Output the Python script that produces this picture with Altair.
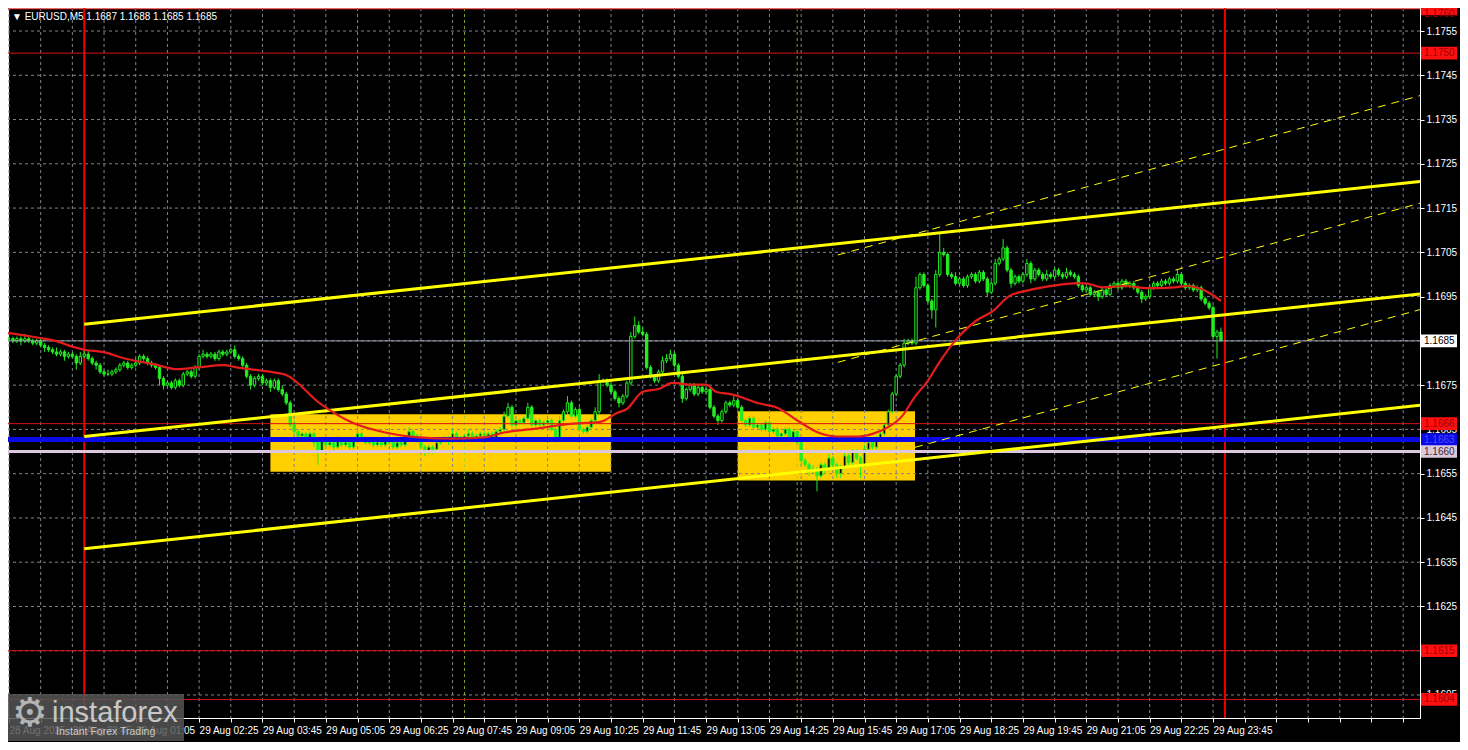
import json
import altair as alt
import pandas as pd

# ---------------- data (prices in pips above 1.1600) ----------------
BASE = 1.16
PIP = 0.0001
FIRST_BAR = -19          # bar index 0 = 29 Aug 00:00, 5-minute bars
FIRST_OPEN = 85.5

CLOSE = [
    85.5, 85.0, 85.5, 85.0, 85.5, 85.0, 84.5, 85.0, 84.0, 83.5,
    83.0, 82.5, 82.0, 82.5, 81.5, 82.0, 81.5, 80.0, 81.5, 82.0,
    81.0, 80.0, 79.5, 78.0, 77.5, 77.5, 78.0, 78.5, 79.5, 80.0,
    79.0, 79.5, 80.0, 81.5, 81.0, 80.0, 79.5, 79.0, 76.5, 75.0,
    75.5, 74.5, 76.0, 75.0, 77.5, 78.0, 77.0, 79.0, 81.5, 82.0,
    81.5, 82.0, 81.0, 82.5, 82.0, 82.5, 83.0, 81.5, 81.0, 79.5,
    77.0, 75.0, 76.5, 77.0, 75.5, 76.0, 74.5, 76.0, 74.0, 73.0,
    71.0, 66.0, 64.5, 63.5, 64.0, 63.0, 64.0, 62.0, 60.0, 62.5,
    61.5, 62.0, 61.0, 62.5, 61.5, 62.0, 61.0, 62.5, 64.0, 63.0,
    62.0, 62.5, 61.5, 62.0, 61.5, 62.5, 62.0, 61.0, 62.0, 61.5,
    63.0, 64.5, 63.5, 62.5, 61.0, 60.0, 61.0, 60.5, 62.0, 62.5,
    63.0, 62.5, 64.0, 63.0, 62.5, 63.5, 64.0, 63.0, 63.5, 64.0,
    63.5, 64.0, 63.0, 64.5, 65.0, 68.0, 70.0, 66.0, 67.0, 66.5,
    67.5, 70.0, 66.0, 67.0, 66.0, 66.5, 67.0, 65.0, 63.0, 67.0,
    69.0, 71.0, 68.0, 69.5, 65.0, 64.5, 65.5, 67.0, 69.0, 76.0,
    76.0, 75.0, 73.5, 72.0, 71.0, 72.5, 75.5, 86.0, 88.5, 87.0,
    86.5, 79.0, 77.0, 76.0, 78.0, 80.5, 81.0, 82.0, 79.5, 77.0,
    72.0, 74.0, 75.0, 73.0, 74.5, 73.5, 74.0, 70.0, 68.0, 67.0,
    69.0, 71.0, 70.5, 71.5, 70.0, 67.0, 66.0, 67.5, 65.5, 66.0,
    65.0, 66.5, 64.5, 65.0, 63.5, 64.0, 65.0, 63.0, 64.5, 62.0,
    58.0, 57.0, 55.5, 56.0, 54.5, 57.0, 56.0, 58.5, 57.0, 55.0,
    56.5, 59.0, 57.5, 60.0, 58.5, 57.0, 60.5, 62.0, 61.0, 63.0,
    64.0, 66.0, 69.0, 73.0, 77.0, 79.5, 84.5, 85.0, 84.5, 97.0,
    100.0, 97.5, 94.0, 92.0, 100.0, 105.0, 104.5, 100.0, 99.5, 98.0,
    99.0, 97.5, 99.5, 100.0, 98.5, 100.5, 99.0, 96.0, 98.0, 102.5,
    103.5, 106.0, 101.0, 98.0, 99.5, 98.5, 100.0, 102.5, 99.0, 101.0,
    100.0, 99.0, 100.0, 99.5, 101.0, 100.0, 99.5, 100.5, 100.0, 99.5,
    97.5, 96.5, 97.0, 95.5, 96.0, 95.0, 96.5, 95.5, 97.5, 98.0,
    97.0, 98.5, 97.5, 98.0, 97.0, 96.0, 94.5, 95.0, 97.0, 98.0,
    97.5, 98.5, 98.0, 99.0, 98.5, 100.0, 98.0, 97.0, 97.5, 96.5,
    97.0, 94.5, 93.5, 92.5, 86.0, 87.0, 85.0,
]

UPPER_WICK = [
    0.5, 0.5, 0.5, 0.5, 1.0, 0.5, 0.5, 0.5, 0.5, 0.5,
    0.5, 0.5, 1.0, 0.5, 0.5, 0.5, 0.5, 0.5, 1.0, 1.0,
    1.0, 0.5, 0.5, 0.5, 0.5, 1.0, 0.5, 0.5, 0.5, 0.5,
    0.5, 0.5, 1.0, 0.5, 0.5, 0.5, 0.5, 0.5, 0.5, 0.5,
    0.5, 0.5, 0.5, 0.5, 0.5, 0.5, 0.5, 0.5, 0.5, 1.0,
    0.5, 0.5, 0.5, 0.5, 0.5, 0.5, 0.5, 1.0, 0.5, 0.5,
    0.5, 0.5, 0.5, 0.5, 0.5, 0.5, 0.5, 0.5, 0.5, 1.0,
    0.5, 0.5, 1.0, 0.5, 0.5, 0.5, 0.5, 0.5, 0.5, 0.5,
    0.5, 0.5, 0.5, 1.0, 0.5, 0.5, 0.5, 0.5, 2.0, 0.5,
    0.5, 0.5, 0.5, 0.5, 0.5, 0.5, 0.5, 0.5, 0.5, 0.5,
    0.5, 1.0, 0.5, 0.5, 0.5, 0.5, 0.5, 0.5, 0.5, 0.5,
    0.5, 0.5, 1.0, 0.5, 0.5, 0.5, 1.0, 0.5, 0.5, 0.5,
    0.5, 0.5, 0.5, 0.5, 0.5, 1.0, 1.0, 0.5, 0.5, 0.5,
    0.5, 1.0, 0.5, 0.5, 0.5, 0.5, 0.5, 0.5, 0.5, 1.0,
    0.5, 1.5, 0.5, 0.5, 0.5, 0.5, 0.5, 0.5, 1.0, 1.5,
    0.5, 0.5, 0.5, 0.5, 0.5, 0.5, 0.5, 1.0, 2.0, 1.0,
    1.0, 0.5, 0.5, 0.5, 0.5, 1.0, 1.0, 1.0, 0.5, 0.5,
    0.5, 0.5, 0.5, 0.5, 0.5, 0.5, 0.5, 0.5, 0.5, 0.5,
    0.5, 0.5, 0.5, 1.0, 0.5, 0.5, 0.5, 0.5, 0.5, 0.5,
    0.5, 0.5, 0.5, 0.5, 0.5, 0.5, 0.5, 0.5, 0.5, 0.5,
    0.5, 0.5, 0.5, 1.0, 0.5, 0.5, 0.5, 1.0, 0.5, 0.5,
    0.5, 1.0, 0.5, 0.5, 0.5, 0.5, 1.0, 0.5, 0.5, 0.5,
    0.5, 0.5, 0.5, 0.5, 0.5, 0.5, 1.0, 0.5, 0.5, 2.5,
    0.5, 0.5, 0.5, 0.5, 1.0, 4.5, 1.0, 0.5, 0.5, 1.0,
    0.5, 0.5, 0.5, 0.5, 0.5, 0.5, 0.5, 0.5, 0.5, 1.0,
    0.5, 2.0, 0.5, 0.5, 0.5, 0.5, 0.5, 1.0, 0.5, 0.5,
    0.5, 0.5, 1.0, 0.5, 0.5, 0.5, 0.5, 1.0, 0.5, 0.5,
    0.5, 0.5, 0.5, 0.5, 0.5, 0.5, 0.5, 0.5, 0.5, 0.5,
    0.5, 0.5, 0.5, 0.5, 0.5, 0.5, 0.5, 0.5, 0.5, 0.5,
    0.5, 0.5, 0.5, 0.5, 0.5, 1.0, 0.5, 0.5, 0.5, 0.5,
    0.5, 0.5, 0.5, 0.5, 0.5, 0.5, 1.0,
]

LOWER_WICK = [
    0.5, 0.5, 0.5, 1.0, 0.5, 0.5, 0.5, 0.5, 0.5, 1.0,
    0.5, 0.5, 0.5, 0.5, 1.0, 0.5, 0.5, 1.5, 0.5, 0.5,
    0.5, 0.5, 1.0, 0.5, 0.5, 0.5, 0.5, 0.5, 0.5, 0.5,
    0.5, 0.5, 0.5, 0.5, 0.5, 0.5, 0.5, 0.5, 1.5, 1.0,
    0.5, 0.5, 0.5, 0.5, 0.5, 0.5, 0.5, 0.5, 0.5, 0.5,
    0.5, 0.5, 0.5, 0.5, 0.5, 0.5, 0.5, 0.5, 0.5, 0.5,
    0.5, 1.0, 0.5, 0.5, 0.5, 0.5, 1.0, 0.5, 0.5, 0.5,
    0.5, 0.5, 0.5, 0.5, 0.5, 0.5, 0.5, 1.0, 3.0, 0.5,
    0.5, 0.5, 1.0, 0.5, 0.5, 0.5, 0.5, 0.5, 0.5, 0.5,
    0.5, 0.5, 0.5, 0.5, 0.5, 0.5, 0.5, 0.5, 0.5, 0.5,
    0.5, 0.5, 0.5, 0.5, 0.5, 1.0, 0.5, 1.0, 0.5, 0.5,
    0.5, 1.0, 0.5, 0.5, 0.5, 0.5, 0.5, 0.5, 0.5, 0.5,
    0.5, 0.5, 0.5, 0.5, 0.5, 0.5, 0.5, 0.5, 0.5, 0.5,
    0.5, 0.5, 0.5, 0.5, 0.5, 0.5, 0.5, 0.5, 1.0, 0.5,
    0.5, 0.5, 0.5, 0.5, 0.5, 0.5, 0.5, 0.5, 0.5, 0.5,
    0.5, 0.5, 0.5, 0.5, 1.0, 0.5, 0.5, 0.5, 0.5, 0.5,
    0.5, 0.5, 0.5, 0.5, 0.5, 0.5, 0.5, 0.5, 0.5, 0.5,
    1.0, 0.5, 0.5, 0.5, 0.5, 0.5, 0.5, 0.5, 0.5, 1.0,
    0.5, 0.5, 0.5, 0.5, 0.5, 0.5, 0.5, 0.5, 0.5, 0.5,
    0.5, 0.5, 0.5, 0.5, 0.5, 0.5, 0.5, 0.5, 0.5, 0.5,
    1.0, 0.5, 1.0, 0.5, 3.5, 0.5, 1.0, 0.5, 0.5, 1.0,
    1.0, 0.5, 0.5, 0.5, 0.5, 3.0, 0.5, 0.5, 0.5, 0.5,
    0.5, 0.5, 0.5, 0.5, 0.5, 0.5, 0.5, 0.5, 0.5, 0.5,
    0.5, 0.5, 0.5, 2.0, 4.0, 0.5, 0.5, 0.5, 0.5, 0.5,
    0.5, 0.5, 0.5, 0.5, 0.5, 0.5, 0.5, 1.0, 0.5, 0.5,
    0.5, 0.5, 0.5, 1.0, 0.5, 0.5, 0.5, 0.5, 1.0, 0.5,
    0.5, 0.5, 0.5, 0.5, 0.5, 0.5, 0.5, 0.5, 0.5, 0.5,
    0.5, 0.5, 0.5, 0.5, 0.5, 1.0, 0.5, 0.5, 0.5, 0.5,
    0.5, 0.5, 0.5, 0.5, 0.5, 0.5, 1.0, 0.5, 0.5, 0.5,
    0.5, 0.5, 0.5, 0.5, 0.5, 0.5, 0.5, 0.5, 0.5, 0.5,
    0.5, 0.5, 0.5, 0.5, 0.5, 5.0, 0.0,
]

# moving average (red line), read at sample bars
MA_BAR = [-19.25, -11.5, -7.25, -3, 0, 5.25, 9.5, 17.75, 23.5, 28.5, 35.25, 38.5,
          47.75, 51, 59.5, 67.75, 76, 84.5, 92.75, 101, 106, 113.5, 122, 130.25,
          134.5, 137, 141, 145.25, 148.5, 153.5, 157, 159.5, 163.5, 170.25, 175.25,
          180.25, 185.25, 190.25, 195.25, 199, 202.75, 206.5, 209.75, 212.75, 216,
          219.5, 225.25, 229.5, 233.5, 237.75, 242, 250.25, 252.75, 257, 262.75,
          268.5, 275.25, 278.5, 282, 284.5, 287]
MA_PIPS = [86.8, 85.7, 85.0, 83.7, 83.0, 82.4, 81.2, 79.7, 78.6, 79.0, 79.5, 79.0,
           77.9, 77.3, 70.9, 66.5, 64.3, 63.2, 62.9, 63.2, 64.3, 65.1, 66.2, 66.7,
           68.7, 69.6, 73.5, 74.2, 75.5, 75.1, 75.1, 73.5, 72.9, 70.9, 69.8,
           66.9, 64.3, 63.4, 63.4, 64.0, 65.4, 68.0, 72.4, 75.7, 80.3,
           84.6, 89.6, 91.8, 95.1, 96.3, 97.1, 98.0, 98.0, 97.1, 97.4,
           96.9, 97.1, 97.4, 96.7, 95.6, 94.0]

# axis ticks
PRICE_TICKS = [1.1605, 1.1615, 1.1625, 1.1635, 1.1645, 1.1655, 1.1665, 1.1675,
               1.1685, 1.1695, 1.1705, 1.1715, 1.1725, 1.1735, 1.1745, 1.1755]
GRID_BARS = [-19, -11, -3, 5, 13, 21, 29, 37, 45, 53, 61, 69, 77, 85, 93, 101, 109,
             117, 125, 133, 141, 149, 157, 165, 173, 181, 189, 197, 205, 213, 221,
             229, 237, 245, 253, 261, 269, 277, 285, 293, 301, 309, 317, 325, 333]
TIME_LABELS = ["28 Aug 2025", "", "28 Aug 23:45", "", "29 Aug 01:05", "", "29 Aug 02:25", "",
               "29 Aug 03:45", "", "29 Aug 05:05", "", "29 Aug 06:25", "", "29 Aug 07:45", "",
               "29 Aug 09:05", "", "29 Aug 10:25", "", "29 Aug 11:45", "", "29 Aug 13:05", "",
               "29 Aug 14:25", "", "29 Aug 15:45", "", "29 Aug 17:05", "", "29 Aug 18:25", "",
               "29 Aug 19:45", "", "29 Aug 21:05", "", "29 Aug 22:25", "", "29 Aug 23:45", "",
               "", "", "", "", ""]

# horizontal levels
RED_LEVELS = [1.1760, 1.1750, 1.16663, 1.1615, 1.1604]
BLUE_LEVEL = [1.16627]
LILAC_LEVEL = [1.1660]
GRAY_LEVEL = [1.1685]

# vertical lines (bar index)
DAY_SEPARATORS = [0, 288]
SESSION_MARKS = [96, 180]

# highlighted boxes
BOX_START = [47, 165]
BOX_END = [133, 209.75]
BOX_TOP = [1.166845, 1.16691]
BOX_BOTTOM = [1.165544, 1.165345]

# channel lines: (name, start bar, start price, end bar, end price)
SOLID_LINES = [("up", 0, 1.168875, 337.25, 1.17210),
               ("mid", 0, 1.166338, 337.25, 1.169559),
               ("low", 0, 1.163801, 337.25, 1.167044)]
DASHED_LINES = [("up", 190.25, 1.17044, 337.25, 1.17404),
                ("mid", 190.25, 1.168015, 337.25, 1.17161),
                ("low", 209.75, 1.166095, 337.25, 1.169206)]

# right-hand price tags
TAG_PRICE = [1.1760, 1.1750, 1.1685, 1.16663, 1.16627, 1.1660, 1.1615, 1.1604]
TAG_TEXT = ["1.1760", "1.1750", "1.1685", "1.1666", "1.1663", "1.1660", "1.1615", "1.1604"]
TAG_BG = ["#ff1010", "#ff1010", "#ffffff", "#ff1010", "#0a0ae6", "#dcc8dc", "#ff1010", "#ff1010"]
TAG_FG = ["#a00000", "#a00000", "#000000", "#a00000", "#4a4aff", "#3a2a3a", "#a00000", "#a00000"]

TITLE = "\u25bc EURUSD,M5  1.1687 1.1688 1.1685 1.1685"

# ---------------- build ----------------
W, H = 1412, 710
PAD_R, PAD_B = 40, 24
Y_MIN, Y_MAX = 1.15998, 1.17602
LIME = "#22ee22"
FONT = "Liberation Sans"

opens = [FIRST_OPEN] + CLOSE[:-1]
rows = []
for k, c in enumerate(CLOSE):
    o = opens[k]
    top, bot = max(o, c), min(o, c)
    i = FIRST_BAR + k
    rows.append(dict(i=i, xl=i - 0.3, xr=i + 0.3,
                     o=BASE + o * PIP, c=BASE + c * PIP,
                     h=BASE + (top + UPPER_WICK[k]) * PIP,
                     l=BASE + (bot - LOWER_WICK[k]) * PIP,
                     bear=bool(c < o)))
candles = pd.DataFrame(rows)

XS = alt.Scale(domain=[-19.25, 337.25], nice=False, zero=False)
YS = alt.Scale(domain=[Y_MIN, Y_MAX], nice=False, zero=False)
label_expr = "[" + ",".join(json.dumps(s) for s in TIME_LABELS) + "][round((datum.value + 19) / 8)]"
X_AX = alt.Axis(values=GRID_BARS, labelExpr=label_expr, labelAlign="left", labelPadding=3,
                labelOverlap=False, labelBound=False, labelFlush=False, labelColor="white",
                labelFont=FONT, labelFontSize=10, tickColor="white", tickSize=4,
                domainColor="white", grid=False)
Y_AX = alt.Axis(orient="right", values=PRICE_TICKS, format=".4f", labelColor="white",
                labelFont=FONT, labelFontSize=10, tickColor="white", tickSize=4,
                domainColor="white", grid=False, labelOverlap=False, labelPadding=2)


def X(f):
    return alt.X(f, type="quantitative", scale=XS, axis=X_AX, title=None)


def Y(f):
    return alt.Y(f, type="quantitative", scale=YS, axis=Y_AX, title=None)


boxes = pd.DataFrame({"x0": BOX_START, "x1": BOX_END, "p0": BOX_TOP, "p1": BOX_BOTTOM})
box_layer = alt.Chart(boxes).mark_rect(color="#ffcf00").encode(
    x=X("x0"), x2="x1", y=Y("p0"), y2="p1")

GRID_COLOR = "#7d8590"
hgrid = alt.Chart(pd.DataFrame({"p": PRICE_TICKS})).mark_rule(
    color=GRID_COLOR, strokeDash=[3, 3], strokeWidth=1).encode(y=Y("p"))
vgrid = alt.Chart(pd.DataFrame({"i": GRID_BARS})).mark_rule(
    color=GRID_COLOR, strokeDash=[3, 3], strokeWidth=1).encode(x=X("i"))

session = alt.Chart(pd.DataFrame({"i": SESSION_MARKS})).mark_rule(
    color="#9acd32", strokeDash=[3, 3], strokeWidth=1, opacity=0.8).encode(x=X("i"))

wicks = alt.Chart(candles).mark_rule(color=LIME, strokeWidth=1).encode(
    x=X("i"), y=Y("l"), y2="h")
bodies = alt.Chart(candles).mark_rect(stroke=LIME, strokeWidth=1).encode(
    x=X("xl"), x2="xr", y=Y("o"), y2="c",
    fill=alt.condition(alt.datum.bear, alt.value(LIME), alt.value("black")))

red_lv = alt.Chart(pd.DataFrame({"p": RED_LEVELS})).mark_rule(
    color="#d81212", strokeWidth=1).encode(y=Y("p"))
gray_lv = alt.Chart(pd.DataFrame({"p": GRAY_LEVEL})).mark_rule(
    color="#9aa0ac", strokeWidth=1).encode(y=Y("p"))
blue_lv = alt.Chart(pd.DataFrame({"p": BLUE_LEVEL})).mark_rule(
    color="#0a0ae6", strokeWidth=5).encode(y=Y("p"))
lilac_lv = alt.Chart(pd.DataFrame({"p": LILAC_LEVEL})).mark_rule(
    color="#dcc8dc", strokeWidth=3).encode(y=Y("p"))

days = alt.Chart(pd.DataFrame({"i": DAY_SEPARATORS})).mark_rule(
    color="#ee0000", strokeWidth=2).encode(x=X("i"))


def line_df(lines):
    recs = []
    for name, i0, p0, i1, p1 in lines:
        recs.append(dict(name=name, i=i0, p=p0))
        recs.append(dict(name=name, i=i1, p=p1))
    return pd.DataFrame(recs)


solid = alt.Chart(line_df(SOLID_LINES)).mark_line(
    color="#ffff00", strokeWidth=3, clip=True).encode(x=X("i"), y=Y("p"), detail="name:N")
dashed = alt.Chart(line_df(DASHED_LINES)).mark_line(
    color="#ffff00", strokeWidth=1, strokeDash=[8, 6], clip=True).encode(
    x=X("i"), y=Y("p"), detail="name:N")

ma = alt.Chart(pd.DataFrame({"i": MA_BAR, "p": [BASE + v * PIP for v in MA_PIPS]})).mark_line(
    color="#e41c1c", strokeWidth=2.2, interpolate="monotone").encode(x=X("i"), y=Y("p"))

HALF = 0.000143
tags = pd.DataFrame({
    "p": TAG_PRICE,
    "tp": [min(p, Y_MAX - 0.00013) for p in TAG_PRICE],
    "top": [min(p + HALF, Y_MAX) for p in TAG_PRICE],
    "bot": [p - HALF for p in TAG_PRICE],
    "txt": TAG_TEXT, "bg": TAG_BG, "fg": TAG_FG})
tag_box = alt.Chart(tags).mark_rect().encode(
    x=alt.value(W + 1), x2=alt.value(W + 37), y=Y("top"), y2="bot",
    color=alt.Color("bg:N", scale=None))
tag_txt = alt.Chart(tags).mark_text(
    align="left", baseline="middle", font=FONT, fontSize=10).encode(
    x=alt.value(W + 4), y=Y("tp"), text="txt:N", color=alt.Color("fg:N", scale=None))

one = pd.DataFrame({"a": [0]})
title = alt.Chart(one).mark_text(
    align="left", baseline="middle", font=FONT, fontSize=10, color="white").encode(
    x=alt.value(4), y=alt.value(9), text=alt.value(TITLE))

logo_bg = alt.Chart(one).mark_rect(color="#555555", opacity=0.85).encode(
    x=alt.value(0), x2=alt.value(176), y=alt.value(686), y2=alt.value(733))
logo_gear = alt.Chart(one).mark_text(
    align="center", baseline="middle", font="DejaVu Sans", fontSize=40, color="#b4b4b4").encode(
    x=alt.value(22), y=alt.value(706), text=alt.value("\u2699"))
logo_name = alt.Chart(one).mark_text(
    align="left", baseline="alphabetic", font=FONT, fontSize=29, color="#c8c8c8").encode(
    x=alt.value(44), y=alt.value(714), text=alt.value("instaforex"))
logo_sub = alt.Chart(one).mark_text(
    align="left", baseline="alphabetic", font=FONT, fontSize=10.5, color="#c8c8c8").encode(
    x=alt.value(48), y=alt.value(727), text=alt.value("Instant Forex Trading"))

chart = alt.layer(
    box_layer, hgrid, vgrid, session, days, wicks, bodies,
    red_lv, gray_lv, blue_lv, lilac_lv, solid, dashed, ma,
    tag_box, tag_txt, title, logo_bg, logo_gear, logo_name, logo_sub,
).properties(
    width=W, height=H, background="black",
    autosize=alt.AutoSizeParams(type="none"),
    padding={"left": 0, "top": 0, "right": PAD_R, "bottom": PAD_B},
).configure_view(stroke="white", strokeWidth=1)

chart.save("out.html", embed_options={"renderer": "svg", "actions": False})
